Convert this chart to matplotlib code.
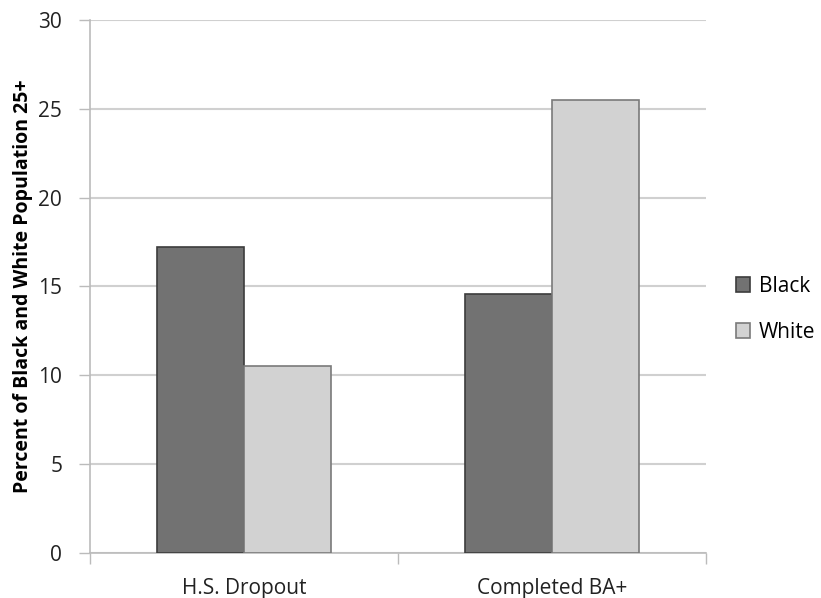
import numpy as np
import matplotlib.pyplot as plt

categories = ["H.S. Dropout", "Completed BA+"]
black = [17.2, 14.6]
white = [10.5, 25.5]
series_names = ["Black", "White"]

plt.rcParams['font.family'] = ['Open Sans', 'DejaVu Sans']

fig = plt.figure(figsize=(8.21, 5.98), dpi=100)
ax = fig.add_axes([0.1096, 0.0753, 0.7503, 0.8913])

x = np.arange(len(categories))
w = 0.284
ax.bar(x - w / 2, black, w, color='#727272', edgecolor='#3c3c3c',
       linewidth=1.2, label=series_names[0], zorder=3)
ax.bar(x + w / 2, white, w, color='#d2d2d2', edgecolor='#7a7a7a',
       linewidth=1.2, label=series_names[1], zorder=3)

ax.set_xlim(-0.5, 1.5)
ax.set_ylim(0, 30)
ax.set_yticks(range(0, 31, 5))
ax.yaxis.grid(True, color='#d0d0d0', linewidth=1.5, zorder=0)
ax.set_axisbelow(True)

ax.set_xticks([-0.5, 0.5, 1.5])
ax.set_xticklabels([])
ax.set_xticks(x, minor=True)
ax.set_xticklabels(categories, minor=True, fontsize=15, color='#222222')
ax.tick_params(axis='x', which='minor', length=0, pad=18)
ax.tick_params(axis='x', which='major', length=8, color='#bbbbbb', width=1)
ax.tick_params(axis='y', length=8, color='#bbbbbb', width=1, labelsize=15,
               pad=12, labelcolor='#222222')

for s in ['top', 'right']:
    ax.spines[s].set_visible(False)
for s in ['left', 'bottom']:
    ax.spines[s].set_color('#bbbbbb')
    ax.spines[s].set_linewidth(1.2)

ax.set_ylabel("Percent of Black and White Population 25+", fontsize=14,
              fontweight='bold', labelpad=4)

leg = ax.legend(loc='center left', bbox_to_anchor=(1.018, 0.457), frameon=False,
                fontsize=15, handlelength=0.7, handleheight=0.7,
                handletextpad=0.4, labelspacing=1.2)

fig.savefig("out.png", dpi=100)
